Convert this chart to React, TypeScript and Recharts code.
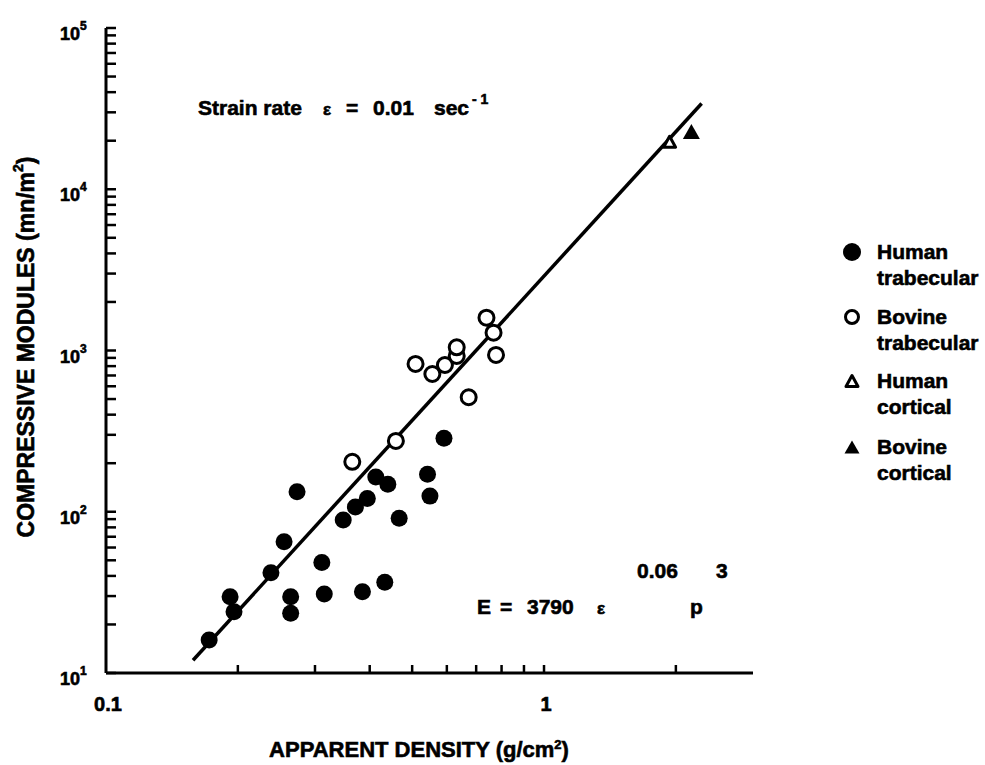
import { Customized, Scatter, ScatterChart, XAxis, YAxis } from "recharts";

// apparent density (g/cm²) vs compressive modulus (MN/m²)
const humanTrabecular = [
  { x: 0.172, y: 16.0 },
  { x: 0.192, y: 29.7 },
  { x: 0.196, y: 24.0 },
  { x: 0.238, y: 41.9 },
  { x: 0.255, y: 65.2 },
  { x: 0.273, y: 133 },
  { x: 0.264, y: 29.7 },
  { x: 0.264, y: 23.5 },
  { x: 0.311, y: 48.4 },
  { x: 0.315, y: 30.9 },
  { x: 0.385, y: 31.9 },
  { x: 0.433, y: 36.5 },
  { x: 0.348, y: 88.9 },
  { x: 0.371, y: 107 },
  { x: 0.395, y: 121 },
  { x: 0.413, y: 164 },
  { x: 0.44, y: 148 },
  { x: 0.467, y: 91.1 },
  { x: 0.542, y: 171 },
  { x: 0.549, y: 125 },
  { x: 0.591, y: 286 },
];

const bovineTrabecular = [
  { x: 0.509, y: 825 },
  { x: 0.556, y: 715 },
  { x: 0.594, y: 813 },
  { x: 0.632, y: 925 },
  { x: 0.632, y: 1046 },
  { x: 0.739, y: 1597 },
  { x: 0.767, y: 1290 },
  { x: 0.777, y: 938 },
  { x: 0.673, y: 513 },
  { x: 0.459, y: 275 },
  { x: 0.365, y: 204 },
];

const humanCortical = [{ x: 1.935, y: 19700 }];
const bovineCortical = [{ x: 2.17, y: 22800 }];

// end points of the fitted line E = 3790 ε^0.06 ρ^3
const fitLine = [
  { x: 0.158, y: 12 },
  { x: 2.29, y: 34000 },
];

const xTicks = [0.1, 0.2, 0.3, 0.4, 0.5, 0.6, 0.7, 0.8, 0.9, 1, 2];
const xLabels = ["0.1", "1"];
const yTicks = [
  10, 20, 30, 40, 50, 60, 70, 80, 90,
  100, 200, 300, 400, 500, 600, 700, 800, 900,
  1000, 2000, 3000, 4000, 5000, 6000, 7000, 8000, 9000,
  10000, 20000, 30000, 40000, 50000, 60000, 70000, 80000, 90000,
  100000,
];
const yMajor = [10, 100, 1000, 10000, 100000];

const legendItems = [
  { kind: "dot", line1: "Human", line2: "trabecular" },
  { kind: "ring", line1: "Bovine", line2: "trabecular" },
  { kind: "tri-open", line1: "Human", line2: "cortical" },
  { kind: "tri", line1: "Bovine", line2: "cortical" },
];

const FONT = '"Liberation Sans", Arial, Helvetica, sans-serif';
const INK = "#000";
// heavy print look: bold face plus a thin outline
const heavy = { fontFamily: FONT, fontWeight: "bold", fill: INK, stroke: INK, strokeWidth: 0.6 } as const;

const tri = (cx: number, cy: number, w: number, h: number) =>
  `M${cx},${cy - h / 2} L${cx + w},${cy + h / 2} L${cx - w},${cy + h / 2} Z`;

const Dot = (p: any) => <circle cx={p.cx} cy={p.cy} r={8.5} fill={INK} />;
const Ring = (p: any) => (
  <circle cx={p.cx} cy={p.cy} r={7.5} fill="#fff" stroke={INK} strokeWidth={3} />
);
const TriOpen = (p: any) => (
  <path d={tri(p.cx, p.cy, 6, 11)} fill="#fff" stroke={INK} strokeWidth={3} strokeLinejoin="round" />
);
const TriFilled = (p: any) => <path d={tri(p.cx, p.cy, 8.5, 15)} fill={INK} />;

const XTick = ({ x, y, payload }: any) => {
  const v = payload.value;
  const label = xLabels.find((l) => Number(l) === v);
  return (
    <g>
      {v !== 0.1 && <line x1={x} x2={x} y1={y} y2={y - 8} stroke={INK} strokeWidth={2.5} />}
      {label && (
        <text x={x + 2} y={y + 38} textAnchor="middle" fontSize={20} {...heavy}>
          {label}
        </text>
      )}
    </g>
  );
};

const YTick = ({ x, y, payload }: any) => {
  const v = payload.value;
  const major = yMajor.includes(v);
  return (
    <g>
      <line x1={x} x2={x + 10} y1={y} y2={y} stroke={INK} strokeWidth={2.5} />
      {major && (
        <text y={y + 12} {...heavy}>
          <tspan x={x - 26} textAnchor="end" fontSize={18}>10</tspan>
          <tspan x={x - 26} dy={-10} fontSize={12}>{Math.round(Math.log10(v))}</tspan>
        </text>
      )}
    </g>
  );
};

const Annotations = () => (
  <g>
    <text transform="translate(26,347) rotate(-90)" textAnchor="middle" dominantBaseline="central" fontSize={23} {...heavy}>
      COMPRESSIVE MODULES (mn/m<tspan dy={-8} fontSize={14}>2</tspan>
      <tspan dy={8}>)</tspan>
    </text>
    <text x={419} y={757} textAnchor="middle" fontSize={22} {...heavy}>
      APPARENT DENSITY (g/cm<tspan dy={-8} fontSize={13}>2</tspan>
      <tspan dy={8}>)</tspan>
    </text>

    <text y={115} fontSize={21} {...heavy}>
      <tspan x={198}>Strain rate</tspan>
      <tspan x={323} fontSize={17}>ε</tspan>
      <tspan x={346}>=</tspan>
      <tspan x={373}>0.01</tspan>
      <tspan x={434}>sec</tspan>
      <tspan x={472} y={104} fontSize={14}>- 1</tspan>
    </text>

    <text y={614} fontSize={21} {...heavy}>
      <tspan x={477}>E</tspan>
      <tspan x={500}>=</tspan>
      <tspan x={527}>3790</tspan>
      <tspan x={597} fontSize={17}>ε</tspan>
      <tspan x={690}>p</tspan>
    </text>
    <text y={578} fontSize={21} {...heavy}>
      <tspan x={637}>0.06</tspan>
      <tspan x={716}>3</tspan>
    </text>

    {legendItems.map((item, i) => {
      const cy = [252, 317, 381, 447][i];
      return (
        <g key={item.line2 + i}>
          {item.kind === "dot" && <circle cx={852} cy={cy} r={9} fill={INK} />}
          {item.kind === "ring" && <circle cx={852} cy={cy} r={6.5} fill="#fff" stroke={INK} strokeWidth={3} />}
          {item.kind === "tri-open" && (
            <path d={tri(852, cy, 6, 11)} fill="#fff" stroke={INK} strokeWidth={3} strokeLinejoin="round" />
          )}
          {item.kind === "tri" && <path d={tri(852, cy, 7.5, 13)} fill={INK} />}
          <text fontSize={21} {...heavy}>
            <tspan x={877} y={cy + 7}>{item.line1}</tspan>
            <tspan x={877} y={cy + 33}>{item.line2}</tspan>
          </text>
        </g>
      );
    })}
  </g>
);

export default function App() {
  return (
    <div style={{ width: 985, height: 765, background: "#fff" }}>
      <style>{"body{margin:0;background:#fff}"}</style>
      <ScatterChart width={985} height={765} margin={{ top: 28, right: 232, bottom: 0, left: 0 }}>
        <XAxis
          dataKey="x"
          type="number"
          scale="log"
          domain={[0.1, 3]}
          ticks={xTicks}
          interval={0}
          allowDataOverflow
          height={92}
          tickSize={0}
          tickMargin={0}
          tickLine={false}
          tick={<XTick />}
          axisLine={{ stroke: INK, strokeWidth: 3 }}
        />
        <YAxis
          dataKey="y"
          type="number"
          scale="log"
          domain={[10, 100000]}
          ticks={yTicks}
          interval={0}
          allowDataOverflow
          width={106}
          tickSize={0}
          tickMargin={0}
          tickLine={false}
          tick={<YTick />}
          axisLine={{ stroke: INK, strokeWidth: 3 }}
        />
        <Scatter
          data={fitLine}
          line={{ stroke: INK, strokeWidth: 3.5 }}
          shape={() => <g />}
          isAnimationActive={false}
        />
        <Scatter data={humanTrabecular} shape={Dot} isAnimationActive={false} />
        <Scatter data={bovineTrabecular} shape={Ring} isAnimationActive={false} />
        <Scatter data={humanCortical} shape={TriOpen} isAnimationActive={false} />
        <Scatter data={bovineCortical} shape={TriFilled} isAnimationActive={false} />
        <Customized component={<Annotations />} />
      </ScatterChart>
    </div>
  );
}
